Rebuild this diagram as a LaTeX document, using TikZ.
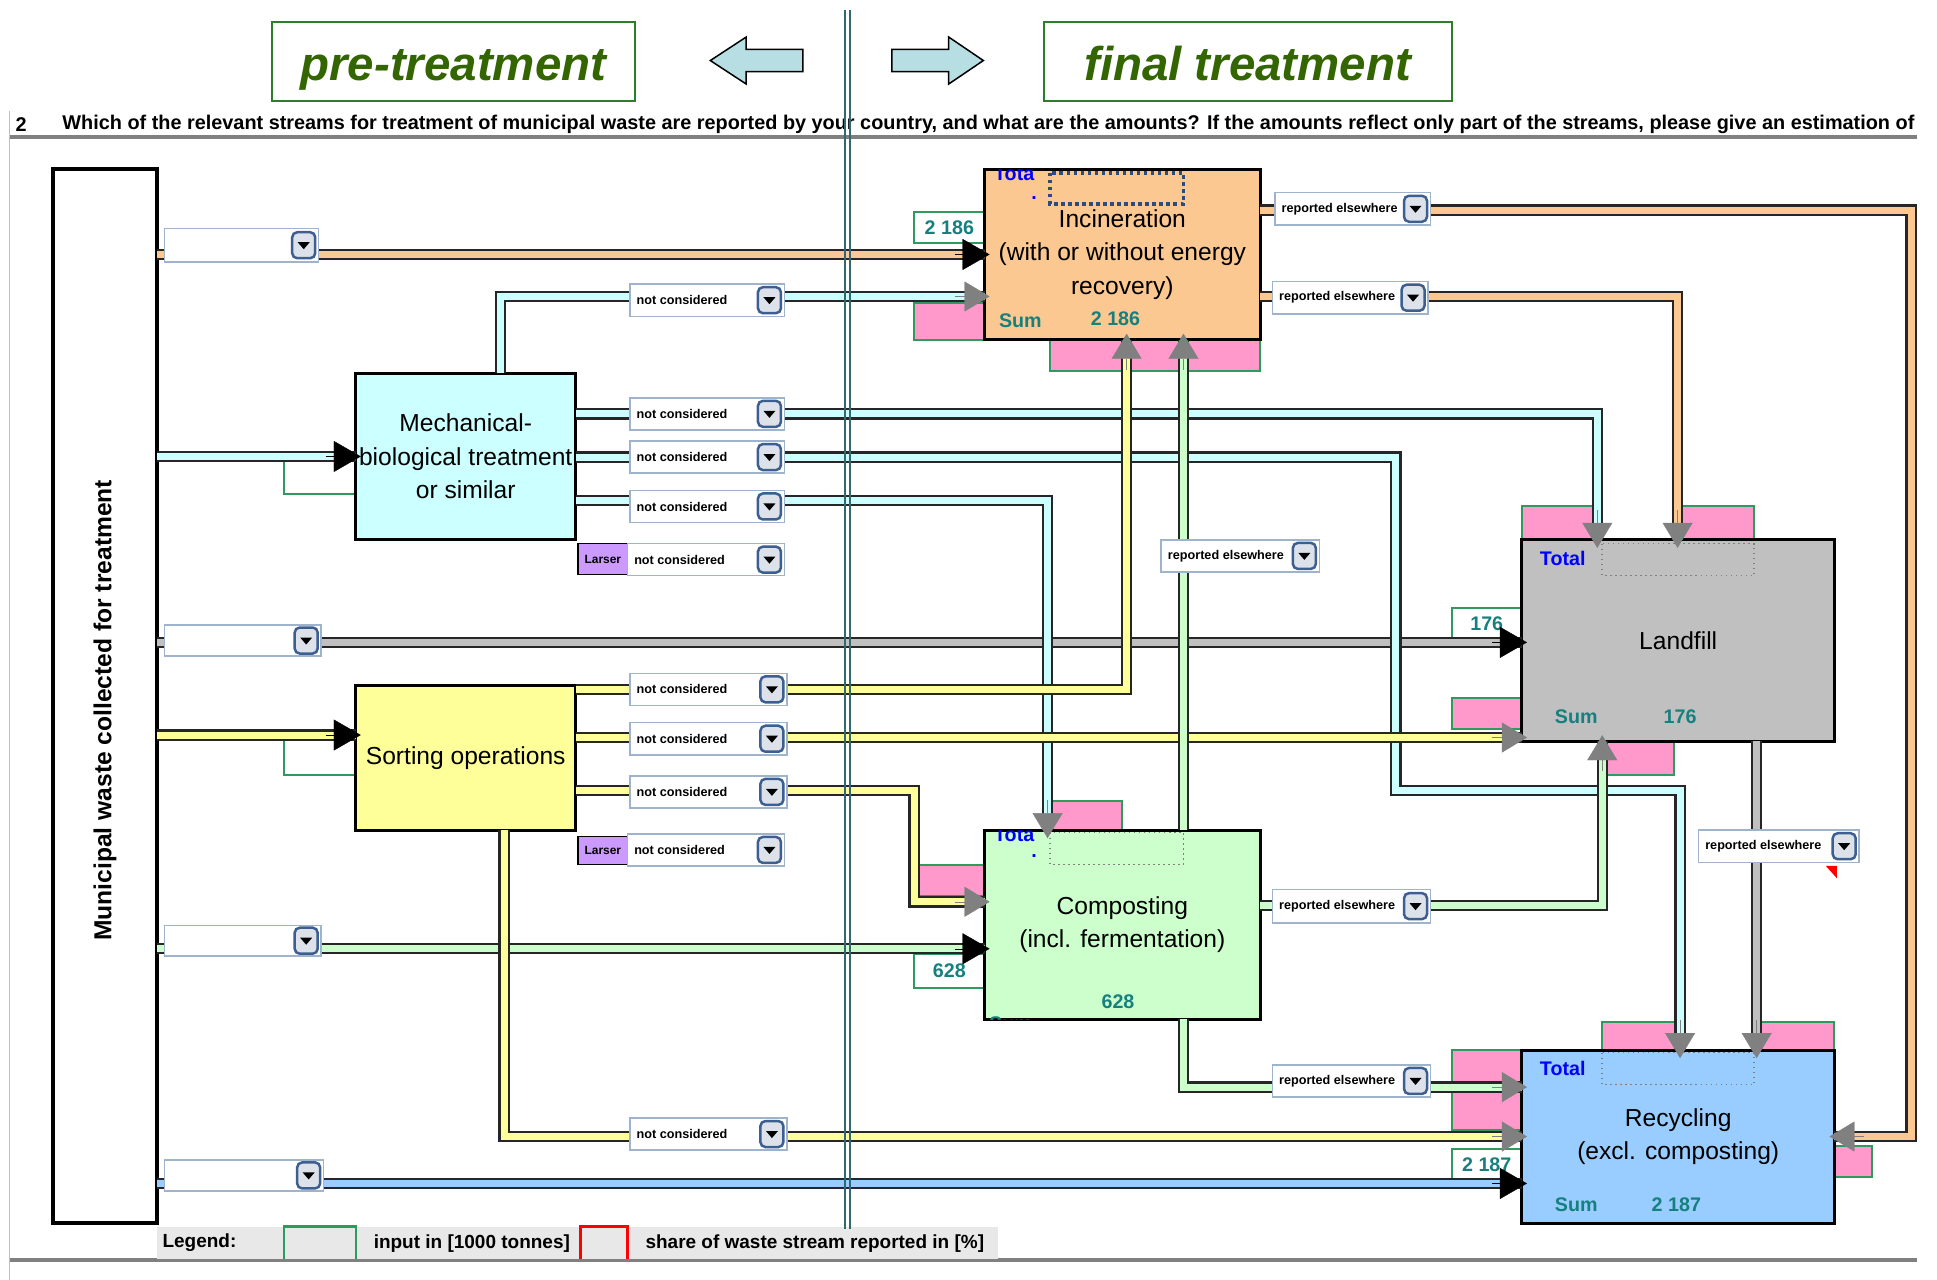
\documentclass[tikz,border=0pt]{standalone}
\usepackage{fontspec}
\setmainfont{Liberation Sans}
\usetikzlibrary{arrows.meta}

\definecolor{inccol}{HTML}{FCC891}
\definecolor{mbtcol}{HTML}{CCFFFF}
\definecolor{sortcol}{HTML}{FFFF99}
\definecolor{compcol}{HTML}{CCFFCC}
\definecolor{landcol}{HTML}{C0C0C0}
\definecolor{reccol}{HTML}{99CCFF}
\definecolor{pinkcol}{HTML}{FF99CC}
\definecolor{cellgreen}{HTML}{2E9A5E}
\definecolor{numteal}{HTML}{16807E}
\definecolor{headgreen}{HTML}{336600}
\definecolor{headframe}{HTML}{2D7D2D}
\definecolor{frameblue}{HTML}{9FB4CC}
\definecolor{btnblue}{HTML}{3D5F8F}
\definecolor{btnfill}{HTML}{DDE2EA}
\definecolor{arrowfill}{HTML}{B7DFE3}
\definecolor{divteal}{HTML}{2E6A70}
\definecolor{larsercol}{HTML}{CC99FF}
\definecolor{arrgray}{HTML}{808080}
\definecolor{selblue}{HTML}{2B4C7E}

\tikzset{
  sz/.style 2 args={minimum width={(#1)*0.12353mm}, minimum height={(#2)*0.12353mm}},
  procbox/.style={draw=black, line width=0.3mm, inner sep=0pt, outer sep=0pt, align=center,
    font=\fontsize{7}{9.5}\selectfont},
  pipe/.style={draw=black!85, line width=0.22mm, double=#1, double distance=0.7mm},
  pinkcell/.style={draw=cellgreen, fill=pinkcol, line width=0.2mm, inner sep=0pt, outer sep=0pt},
  incell/.style={draw=cellgreen, fill=white, line width=0.2mm, inner sep=0pt, outer sep=0pt,
    text=numteal, font=\bfseries\fontsize{5.6}{6}\selectfont},
  larser/.style={draw=black, fill=larsercol, line width=0.15mm, inner sep=0pt, outer sep=0pt,
    font=\bfseries\fontsize{3.4}{4}\selectfont},
  ddfield/.style={draw=frameblue, fill=white, line width=0.15mm, inner sep=0pt, outer sep=0pt},
  ddtext/.style={anchor=west, inner sep=0pt, font=\bfseries\fontsize{3.6}{4}\selectfont},
  ddbutton/.style={draw=btnblue, fill=btnfill, line width=0.25mm, rounded corners=0.5mm,
    minimum width=2.3mm, minimum height=2.6mm, inner sep=0pt},
  headbox/.style={draw=headframe, line width=0.2mm, fill=white, inner sep=0pt, outer sep=0pt,
    text height=13.2pt, text depth=2.8pt,
    text=headgreen, font=\bfseries\itshape\fontsize{13.5}{15}\selectfont},
  hdarrow/.style={draw=black, line width=0.15mm, fill=arrowfill},
  qtext/.style={anchor=west, inner sep=0pt, font=\bfseries\fontsize{5.65}{6.5}\selectfont},
  mwtext/.style={inner sep=0pt, font=\bfseries\fontsize{7}{8}\selectfont},
  totext/.style={inner sep=0pt, text=blue, font=\bfseries\fontsize{5.6}{6}\selectfont},
  numtext/.style={inner sep=0pt, text=numteal, font=\bfseries\fontsize{5.6}{6}\selectfont},
  legtext/.style={anchor=west, inner sep=0pt, font=\bfseries\fontsize{5.4}{6}\selectfont},
  headblk/.style={-{Triangle[length=2.7mm,width=3.1mm]}, line width=0.1pt, black},
  headgry/.style={-{Triangle[length=2.5mm,width=3mm]}, line width=0.1pt, arrgray}
}

% box from corner numbers (in reference pixels)
\newcommand\rectnode[7][]{\node[#1, sz={#5-#3}{#6-#4}] (#2) at ({(#3+#5)/2},{(#4+#6)/2}) {#7};}
% drop-down field with its button
\newcommand\dropfield[6]{%
  \rectnode[ddfield]{#1}{#2}{#3}{#4}{#5}{}
  \node[ddtext] (#1-t) at ([xshift=0.6mm]#1.west) {#6};
  \node[ddbutton] (#1-b) at ([xshift=-1.5mm]#1.east) {};
  \fill (#1-b.center) +(-0.6mm,0.3mm) -- +(0.6mm,0.3mm) -- +(0mm,-0.4mm) -- cycle;
}
\newcommand\headR[2]{\draw[#1] (#2) +(-3mm,0) -- +(0.5mm,0);}
\newcommand\headL[2]{\draw[#1] (#2) +(3mm,0) -- +(-0.5mm,0);}
\newcommand\headU[2]{\draw[#1] (#2) +(0,-3mm) -- +(0,0.6mm);}
\newcommand\headD[2]{\draw[#1] (#2) +(0,3mm) -- +(0,-0.8mm);}

\begin{document}
\begin{tikzpicture}[x=0.12353mm, y=-0.12353mm]
\useasboundingbox (0,0) rectangle (1568,1036);

% header
\rectnode[headbox]{pre}{220}{18}{514}{82}{pre-treatment}
\rectnode[headbox]{fin}{845}{18}{1175}{82}{final treatment}
\draw[hdarrow] (650,40) -- (604,40) -- (604,30) -- (575,49) -- (604,68) -- (604,58) -- (650,58) -- cycle;
\draw[hdarrow] (722,40) -- (768,40) -- (768,30) -- (796,49) -- (768,68) -- (768,58) -- (722,58) -- cycle;

% question row and sheet lines
\draw[gray!50, line width=0.1mm] (8,90) -- (8,1036);
\draw[gray, line width=0.35mm] (8,111) -- (1552,111);
\draw[gray, line width=0.35mm] (8,1020) -- (1552,1020);
\begin{scope}
  \clip (0,88) rectangle (1553,110);
  \node[qtext] (qnum) at (12,101) {2};
  \node[qtext] (qline) at (50,101) {Which of the relevant streams for treatment of municipal waste are reported by your country, and what are the amounts? If the amounts reflect only part of the streams, please give an estimation of t};
\end{scope}

% input and share cells
\rectnode[incell]{mbt-in}{230}{372}{288}{400}{}
\rectnode[incell]{sort-in}{230}{598}{288}{627}{}
\rectnode[incell]{inc-in}{740}{172}{797}{197}{2 186}
\rectnode[pinkcell]{inc-p1}{740}{245}{797}{275}{}
\rectnode[pinkcell]{inc-p2}{850}{275}{1020}{300}{}
\rectnode[pinkcell]{comp-p1}{850}{648}{908}{672}{}
\rectnode[pinkcell]{comp-p2}{740}{700}{797}{725}{}
\rectnode[incell]{comp-in}{740}{772}{797}{800}{628}
\rectnode[incell]{land-in}{1175}{492}{1232}{517}{176}
\rectnode[pinkcell]{land-p1}{1232}{410}{1293}{437}{}
\rectnode[pinkcell]{land-p2}{1360}{410}{1420}{437}{}
\rectnode[pinkcell]{land-p3}{1297}{600}{1355}{627}{}
\rectnode[pinkcell]{land-p4}{1175}{565}{1232}{590}{}
\rectnode[pinkcell]{rec-p1}{1297}{827}{1358}{850}{}
\rectnode[pinkcell]{rec-p2}{1422}{827}{1485}{850}{}
\rectnode[pinkcell]{rec-p3}{1175}{850}{1232}{915}{}
\rectnode[pinkcell]{rec-p4}{1485}{928}{1515}{953}{}
\rectnode[incell]{rec-in}{1175}{930}{1232}{955}{2 187}

% treatment boxes
\rectnode[procbox, line width=0.35mm, fill=white]{mw}{43}{137}{127}{990}{}
\node[mwtext, rotate=90] (mw-t) at (85,575) {Municipal waste collected for treatment};
\rectnode[procbox, fill=mbtcol]{mbt}{288}{302}{466}{437}{Mechanical-\\biological treatment\\or similar}
\rectnode[procbox, fill=sortcol]{sort}{288}{555}{466}{672}{Sorting operations}
\rectnode[procbox, fill=inccol]{inc}{797}{137}{1020}{275}{Incineration\\(with or without energy\\recovery)}
\rectnode[procbox, fill=compcol]{comp}{797}{672}{1020}{825}{Composting\\(incl. fermentation)}
\rectnode[procbox, fill=landcol]{land}{1232}{437}{1485}{600}{Landfill}
\rectnode[procbox, fill=reccol]{rec}{1232}{850}{1485}{990}{Recycling\\(excl. composting)}

% streams from collected waste
\draw[pipe=inccol] (mw.east |- inc.west) -- (inc.west);
\draw[pipe=mbtcol] (mw.east |- mbt.west) -- (mbt.west);
\draw[pipe=landcol] (mw.east |- 0,520) -- (land.west |- 0,520);
\draw[pipe=sortcol] (mw.east |- 0,595) -- (sort.west |- 0,595);
\draw[pipe=compcol] (mw.east |- 0,768) -- (comp.west |- 0,768);
\draw[pipe=reccol] (mw.east |- 0,958) -- (rec.west |- 0,958);

% streams after pre-treatment
\draw[pipe=mbtcol] (405,0 |- mbt.north) -- (405,240) -- (inc.west |- 0,240);
\draw[pipe=mbtcol] (mbt.east |- 0,335) -- (1293,335) -- (1293,0 |- land.north);
\draw[pipe=mbtcol] (mbt.east |- 0,370) -- (1130,370) -- (1130,640) -- (1360,640) -- (1360,0 |- rec.north);
\draw[pipe=mbtcol] (mbt.east |- 0,405) -- (848,405) -- (848,0 |- comp.north);
\draw[pipe=sortcol] (sort.east |- 0,558) -- (912,558) -- (912,0 |- inc.south);
\draw[pipe=sortcol] (sort.east |- 0,597) -- (land.west |- 0,597);
\draw[pipe=sortcol] (sort.east |- 0,640) -- (740,640) -- (740,730) -- (comp.west |- 0,730);
\draw[pipe=sortcol] (408,0 |- sort.south) -- (408,920) -- (rec.west |- 0,920);

% streams after final treatment
\draw[pipe=compcol] (958,0 |- comp.north) -- (958,0 |- inc.south);
\draw[pipe=compcol] (comp.east |- 0,733) -- (1297,733) -- (1297,0 |- land.south);
\draw[pipe=compcol] (958,0 |- comp.south) -- (958,880) -- (rec.west |- 0,880);
\draw[pipe=inccol] (inc.east |- 0,170) -- (1547,170) -- (1547,920) -- (rec.east |- 0,920);
\draw[pipe=inccol] (inc.east |- 0,240) -- (1358,240) -- (1358,0 |- land.north);
\draw[pipe=landcol] (1422,0 |- land.south) -- (1422,0 |- rec.north);

% labels inside the boxes
\begin{scope}
  \clip (797,137) rectangle (1020,275);
  \node[totext] (inc-tot) at (821,141) {Tota};
  \node[totext] (inc-dot) at (837,160) {.};
\end{scope}
\draw[selblue, line width=0.35mm, densely dotted] (850,140) rectangle (958,165);
\node[numtext] (inc-sum) at (826,260) {Sum};
\node[numtext] (inc-val) at (903,258) {2 186};
\begin{scope}
  \clip (797,672) rectangle (1020,825);
  \node[totext] (comp-tot) at (821,676) {Tota};
  \node[totext] (comp-dot) at (837,693) {.};
  \node[numtext] (comp-sum) at (818,829) {Sum};
\end{scope}
\draw[gray, line width=0.15mm, densely dotted] (850,674) rectangle (958,700);
\node[numtext] (comp-val) at (905,811) {628};
\node[totext] (land-tot) at (1265,452) {Total};
\draw[gray, line width=0.15mm, densely dotted] (1297,440) rectangle (1420,466);
\node[numtext] (land-sum) at (1276,580) {Sum};
\node[numtext] (land-val) at (1360,580) {176};
\node[totext] (rec-tot) at (1265,865) {Total};
\draw[gray, line width=0.15mm, densely dotted] (1297,852) rectangle (1420,878);
\node[numtext] (rec-sum) at (1276,975) {Sum};
\node[numtext] (rec-val) at (1357,975) {2 187};

% drop-down fields
\dropfield{dd1}{133}{185}{258}{212}{}
\dropfield{dd2}{133}{506}{260}{531}{}
\dropfield{dd3}{133}{749}{260}{774}{}
\dropfield{dd4}{133}{939}{262}{964}{}
\dropfield{nc1}{510}{230}{635}{256}{not considered}
\dropfield{nc2}{510}{322}{635}{348}{not considered}
\dropfield{nc3}{510}{357}{635}{383}{not considered}
\dropfield{nc4}{510}{397}{635}{423}{not considered}
\rectnode[larser]{mbt-ls}{468}{440}{508}{465}{Larser}
\dropfield{nc5}{508}{440}{635}{466}{not considered}
\dropfield{nc6}{510}{545}{637}{571}{not considered}
\dropfield{nc7}{510}{585}{637}{611}{not considered}
\dropfield{nc8}{510}{628}{637}{654}{not considered}
\rectnode[larser]{sort-ls}{468}{677}{508}{700}{Larser}
\dropfield{nc9}{508}{675}{635}{701}{not considered}
\dropfield{nc10}{510}{905}{637}{931}{not considered}
\dropfield{re1}{1032}{156}{1158}{182}{reported elsewhere}
\dropfield{re2}{1030}{228}{1156}{254}{reported elsewhere}
\dropfield{re3}{940}{437}{1068}{463}{reported elsewhere}
\dropfield{re4}{1030}{720}{1158}{747}{reported elsewhere}
\dropfield{re5}{1030}{862}{1158}{888}{reported elsewhere}
\dropfield{re6}{1375}{672}{1505}{698}{reported elsewhere}
\fill[red] (1478,701) -- (1487,701) -- (1487,711) -- cycle;

% arrow heads
\headR{headblk}{inc.west}
\headR{headblk}{mbt.west}
\headR{headblk}{land.west |- 0,520}
\headR{headblk}{sort.west |- 0,595}
\headR{headblk}{comp.west |- 0,768}
\headR{headblk}{rec.west |- 0,958}
\headR{headgry}{inc.west |- 0,240}
\headD{headgry}{1293,0 |- land.north}
\headD{headgry}{1360,0 |- rec.north}
\headD{headgry}{848,0 |- comp.north}
\headU{headgry}{912,0 |- inc.south}
\headR{headgry}{land.west |- 0,597}
\headR{headgry}{comp.west |- 0,730}
\headR{headgry}{rec.west |- 0,920}
\headU{headgry}{958,0 |- inc.south}
\headU{headgry}{1297,0 |- land.south}
\headR{headgry}{rec.west |- 0,880}
\headL{headgry}{rec.east |- 0,920}
\headD{headgry}{1358,0 |- land.north}
\headD{headgry}{1422,0 |- rec.north}

% legend
\fill[gray!18] (127,993) rectangle (808,1019);
\node[legtext] (leg) at (131,1006) {Legend:};
\draw[cellgreen, line width=0.25mm] (230,1019) -- (230,993) -- (288,993) -- (288,1019);
\node[legtext] (leg-in) at (302,1007) {input in [1000 tonnes]};
\draw[red, line width=0.25mm] (470,1019) -- (470,993) -- (508,993) -- (508,1019);
\node[legtext] (leg-sh) at (522,1007) {share of waste stream reported in [\%]};

% divider between pre-treatment and final treatment
\draw[divteal, line width=0.2mm] (684,8) -- (684,995);
\draw[divteal, line width=0.2mm] (688,8) -- (688,995);
\end{tikzpicture}
\end{document}
